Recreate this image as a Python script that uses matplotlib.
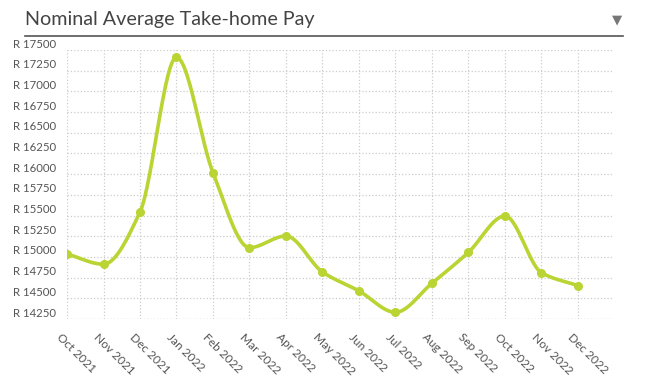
import matplotlib
matplotlib.use("Agg")
import matplotlib.pyplot as plt
import matplotlib.transforms as mtransforms
import numpy as np

months = ['Oct 2021', 'Nov 2021', 'Dec 2021', 'Jan 2022', 'Feb 2022', 'Mar 2022',
          'Apr 2022', 'May 2022', 'Jun 2022', 'Jul 2022', 'Aug 2022', 'Sep 2022',
          'Oct 2022', 'Nov 2022', 'Dec 2022']
pay = [15036, 14912, 15543, 17412, 16018, 15112, 15253, 14818, 14589, 14331,
       14682, 15056, 15495, 14810, 14653]
y_ticks = list(range(14250, 17501, 250))

title = 'Nominal Average Take-home Pay'
line_color = '#b9d433'
text_color = '#555555'


def monotone_curve(x, y, n=30):
    # monotone cubic (Fritsch-Carlson) for the smooth line
    x = np.asarray(x, float)
    y = np.asarray(y, float)
    h = np.diff(x)
    d = np.diff(y) / h
    m = np.zeros_like(y)
    m[0], m[-1] = d[0], d[-1]
    for i in range(1, len(y) - 1):
        if d[i - 1] * d[i] <= 0:
            m[i] = 0
        else:
            w1 = 2 * h[i] + h[i - 1]
            w2 = h[i] + 2 * h[i - 1]
            m[i] = (w1 + w2) / (w1 / d[i - 1] + w2 / d[i])
    xs, ys = [], []
    for i in range(len(x) - 1):
        t = np.linspace(0, 1, n, endpoint=False)
        h00 = 2 * t**3 - 3 * t**2 + 1
        h10 = t**3 - 2 * t**2 + t
        h01 = -2 * t**3 + 3 * t**2
        h11 = t**3 - t**2
        xs.append(x[i] + t * h[i])
        ys.append(h00 * y[i] + h10 * h[i] * m[i] + h01 * y[i + 1] + h11 * h[i] * m[i + 1])
    xs.append([x[-1]])
    ys.append([y[-1]])
    return np.concatenate(xs), np.concatenate(ys)


plt.rcParams['font.family'] = ['Lato', 'DejaVu Sans']

fig = plt.figure(figsize=(6.5, 3.92), dpi=100)
ax = fig.add_axes([0.1031, 0.1862, 0.8399, 0.6862])

xi = np.arange(len(months))
cx, cy = monotone_curve(xi, pay)
ax.plot(cx, cy, color=line_color, lw=2.6, solid_capstyle='round', zorder=3)
ax.plot(xi, pay, 'o', color=line_color, ms=5.5, zorder=4)

ax.set_xlim(0, len(months) - 1 + 0.96)
ax.set_ylim(y_ticks[0], y_ticks[-1])
ax.set_xticks(xi)
ax.set_xticklabels(months, rotation=-45, ha='left', va='top', rotation_mode='anchor',
                   fontsize=8.6, color=text_color)
ax.set_yticks(y_ticks)
ax.set_yticklabels(['R {}'.format(v) for v in y_ticks], fontsize=8.2, color=text_color)
ax.tick_params(length=0)
ax.tick_params(axis='y', pad=8)
ax.tick_params(axis='x', pad=9)

shift = mtransforms.ScaledTranslation(0, 5 / 72, fig.dpi_scale_trans)
for lab in ax.get_yticklabels():
    lab.set_transform(lab.get_transform() + shift)
shift_x = mtransforms.ScaledTranslation(-3 / 72, 0, fig.dpi_scale_trans)
for lab in ax.get_xticklabels():
    lab.set_transform(lab.get_transform() + shift_x)

for s in ax.spines.values():
    s.set_visible(False)
ax.grid(color='#cccccc', linestyle=':', linewidth=0.9)
ax.axhline(y_ticks[0], color='#cccccc', linestyle=':', linewidth=0.9, zorder=1)

# header
fig.text(25 / 650, 1 - 20 / 392, title, fontsize=14.2, color='#444444', va='center', ha='left')
fig.text(617 / 650, 1 - 20 / 392, '\u25bc', fontsize=9.5, color='#777777', va='center',
         ha='center', family='DejaVu Sans')
fig.add_artist(plt.Line2D([25 / 650, 623 / 650], [1 - 36 / 392, 1 - 36 / 392],
                          color='#555555', lw=1.2, transform=fig.transFigure))

fig.savefig('out.png', dpi=100)
